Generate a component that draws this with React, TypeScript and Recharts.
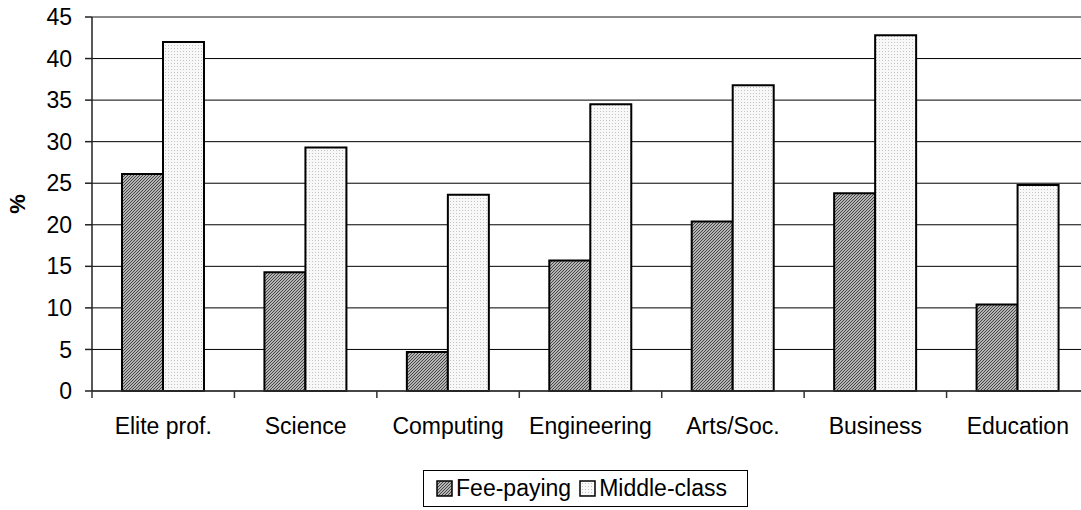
import { BarChart, Bar, XAxis, YAxis, CartesianGrid, ReferenceLine, Legend } from "recharts"

const categories = ["Elite prof.", "Science", "Computing", "Engineering", "Arts/Soc.", "Business", "Education"]
const feePaying = [26.1, 14.3, 4.7, 15.7, 20.4, 23.8, 10.4]
const middleClass = [42.0, 29.3, 23.6, 34.5, 36.8, 42.8, 24.8]
const yTicks = [0, 5, 10, 15, 20, 25, 30, 35, 40, 45]

const data = categories.map((name, i) => ({ name, fee: feePaying[i], mid: middleClass[i] }))

const FONT = '"Liberation Sans", Arial, sans-serif'

function Patterns({ suffix }: { suffix: string }) {
  return (
    <defs>
      <pattern id={"hatch" + suffix} patternUnits="userSpaceOnUse" width="3" height="3">
        <rect width="3" height="3" fill="#b4b4b4" />
        <path d="M-1,1 l2,-2 M0,3 l3,-3 M2,4 l2,-2" stroke="#3a3a3a" strokeWidth="0.9" />
      </pattern>
      <pattern id={"dots" + suffix} patternUnits="userSpaceOnUse" width="3" height="3">
        <rect width="3" height="3" fill="#f8f8f8" />
        <rect width="1" height="1" fill="#c4c4c4" />
      </pattern>
    </defs>
  )
}

function CategoryTick(props: any) {
  const { x, y, payload } = props
  const half = payload?.offset ?? 71
  return (
    <g>
      <line x1={x - half} x2={x - half} y1={y} y2={y + 7} stroke="#333" strokeWidth={1.5} />
      <text x={x} y={y + 43} textAnchor="middle" fontSize={23} fontFamily={FONT} fill="#000">
        {payload.value}
      </text>
    </g>
  )
}

function PercentLabel(props: any) {
  const { viewBox } = props
  const cx = viewBox.x + 17
  const cy = viewBox.y + viewBox.height / 2
  return (
    <text
      x={cx}
      y={cy}
      transform={`rotate(-90, ${cx}, ${cy})`}
      textAnchor="middle"
      dominantBaseline="central"
      fontSize={22}
      fontWeight="bold"
      fontFamily={FONT}
      fill="#000"
    >
      %
    </text>
  )
}

function LegendBox() {
  const item = (fill: string, label: string) => (
    <span style={{ display: "inline-flex", alignItems: "center", marginRight: 8 }}>
      <svg width={17} height={17} style={{ marginRight: 3, display: "block" }}>
        <rect x={1} y={1} width={15} height={15} fill={fill} stroke="#000" strokeWidth={1.5} />
      </svg>
      {label}
    </span>
  )
  return (
    <div
      style={{
        position: "relative",
        boxSizing: "border-box",
        height: 37,
        width: 325,
        overflow: "hidden",
        boxShadow: "inset 0 0 0 1px #000",
        display: "flex",
        alignItems: "center",
        justifyContent: "center",
        fontFamily: FONT,
        fontSize: 23,
        lineHeight: "23px",
        color: "#000",
        background: "#fff",
      }}
    >
      <svg width={0} height={0} style={{ position: "absolute" }}>
        <Patterns suffix="Legend" />
      </svg>
      {item("url(#hatchLegend)", "Fee-paying")}
      {item("url(#dotsLegend)", "Middle-class")}
    </div>
  )
}

export default function App() {
  return (
    <div style={{ position: "absolute", left: 0, top: 0, width: 1081, height: 510, overflow: "hidden", background: "#fff" }}>
      <BarChart
        width={1090}
        height={510}
        data={data}
        margin={{ top: 17, right: 1, left: 0, bottom: 2 }}
        barSize={41}
        barGap={0}
      >
        <Patterns suffix="" />
        <CartesianGrid vertical={false} stroke="#000" strokeWidth={1} />
        <ReferenceLine y={45} stroke="#8a8a8a" strokeWidth={2} />
        <XAxis
          dataKey="name"
          height={80}
          tickSize={0}
          tickMargin={0}
          interval={0}
          tick={<CategoryTick />}
          axisLine={{ stroke: "#333", strokeWidth: 1.5 }}
          tickLine={false}
        />
        <YAxis
          width={92}
          domain={[0, 45]}
          ticks={yTicks}
          interval={0}
          tickSize={7}
          tickMargin={13}
          tick={{ fontSize: 23, fontFamily: FONT, fill: "#000" }}
          axisLine={{ stroke: "#222", strokeWidth: 1.5 }}
          tickLine={{ stroke: "#222", strokeWidth: 1.5 }}
          label={<PercentLabel />}
        />
        <Legend
          verticalAlign="bottom"
          content={<LegendBox />}
          wrapperStyle={{ left: 423, top: 470, bottom: "auto", width: 325, height: 37 }}
        />
        <Bar dataKey="fee" name="Fee-paying" fill="url(#hatch)" stroke="#000" strokeWidth={2} isAnimationActive={false} />
        <Bar dataKey="mid" name="Middle-class" fill="url(#dots)" stroke="#000" strokeWidth={2} isAnimationActive={false} />
      </BarChart>
    </div>
  )
}
